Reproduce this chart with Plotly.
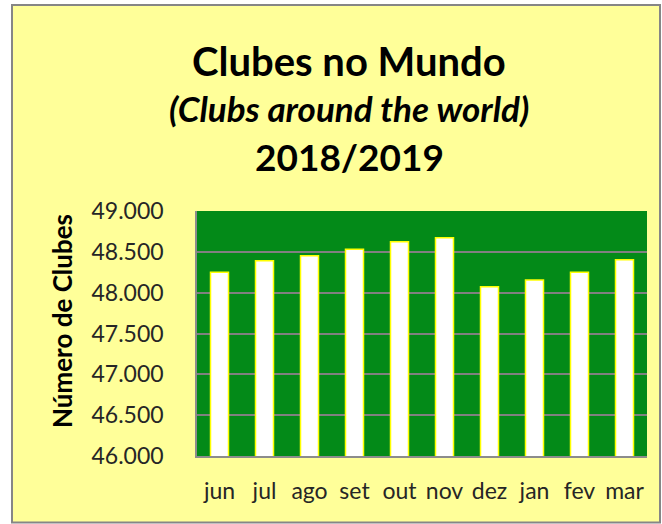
import plotly.graph_objects as go

months = ["jun", "jul", "ago", "set", "out", "nov", "dez", "jan", "fev", "mar"]
clubs = [48250, 48392, 48453, 48531, 48624, 48673, 48073, 48155, 48250, 48404]
y_ticks = [46000, 46500, 47000, 47500, 48000, 48500, 49000]

title_1 = "Clubes no Mundo"
title_2 = "(Clubs around the world)"
title_3 = "2018/2019"
y_title = "Número de Clubes"

FONT = "Lato"

L, R, T, B = 197, 15, 211, 68
W, H = 662, 524
pw, ph = W - L - R, H - T - B

def px(x):
    return (x - L) / pw

def py(y):
    return (H - B - y) / ph

fig = go.Figure()
fig.add_trace(go.Bar(
    x=months, y=clubs,
    marker=dict(color="#FFFFFF", line=dict(color="#FFFF00", width=1.5)),
    width=0.4,
))

fig.add_shape(type="rect", xref="paper", yref="paper",
              x0=px(12), x1=px(660), y0=py(522.5), y1=py(5),
              fillcolor="#FFFF99", line=dict(color="#868686", width=2),
              layer="below")
fig.add_shape(type="rect", xref="paper", yref="paper",
              x0=0, x1=1, y0=0, y1=1,
              fillcolor="#038A18", line=dict(width=0),
              layer="below")

ann = [
    dict(text="<b>" + title_1 + "</b>", x=px(349), y=py(61), font=dict(size=40, color="#000000", family=FONT)),
    dict(text="<b><i>" + title_2 + "</i></b>", x=px(349), y=py(108), font=dict(size=35, color="#000000", family=FONT)),
    dict(text="<b>" + title_3 + "</b>", x=px(349), y=py(156), font=dict(size=37, color="#000000", family=FONT)),
    dict(text="<b>" + y_title + "</b>", x=px(62), y=py(321), textangle=-90, font=dict(size=26, color="#000000", family=FONT)),
]
for a in ann:
    a.update(xref="paper", yref="paper", showarrow=False, xanchor="center", yanchor="middle")
fig.update_layout(annotations=ann)

fig.update_layout(
    width=W, height=H,
    margin=dict(l=L, r=R, t=T, b=B, pad=0),
    paper_bgcolor="rgba(0,0,0,0)",
    plot_bgcolor="rgba(0,0,0,0)",
    separators=",.",
    showlegend=False,
    font=dict(family=FONT, color="#262626"),
)
fig.update_xaxes(
    tickfont=dict(size=23, color="#262626", family=FONT),
    ticks="", ticklabelstandoff=14,
    showline=True, linecolor="#8C8C8C", linewidth=1.5,
    showgrid=False,
)
fig.update_yaxes(
    range=[46000, 49000], tickvals=y_ticks, tickformat=",.0f",
    tickfont=dict(size=23, color="#262626", family=FONT),
    ticks="", ticklabelstandoff=27,
    showgrid=True, gridcolor="#808080", gridwidth=1.5,
    showline=True, linecolor="#8C8C8C", linewidth=1.5, mirror=False,
    zeroline=False,
)

fig.write_html("out.html", config={"displayModeBar": False},
               post_script="document.body.style.margin='0px';document.body.style.overflow='hidden';")
